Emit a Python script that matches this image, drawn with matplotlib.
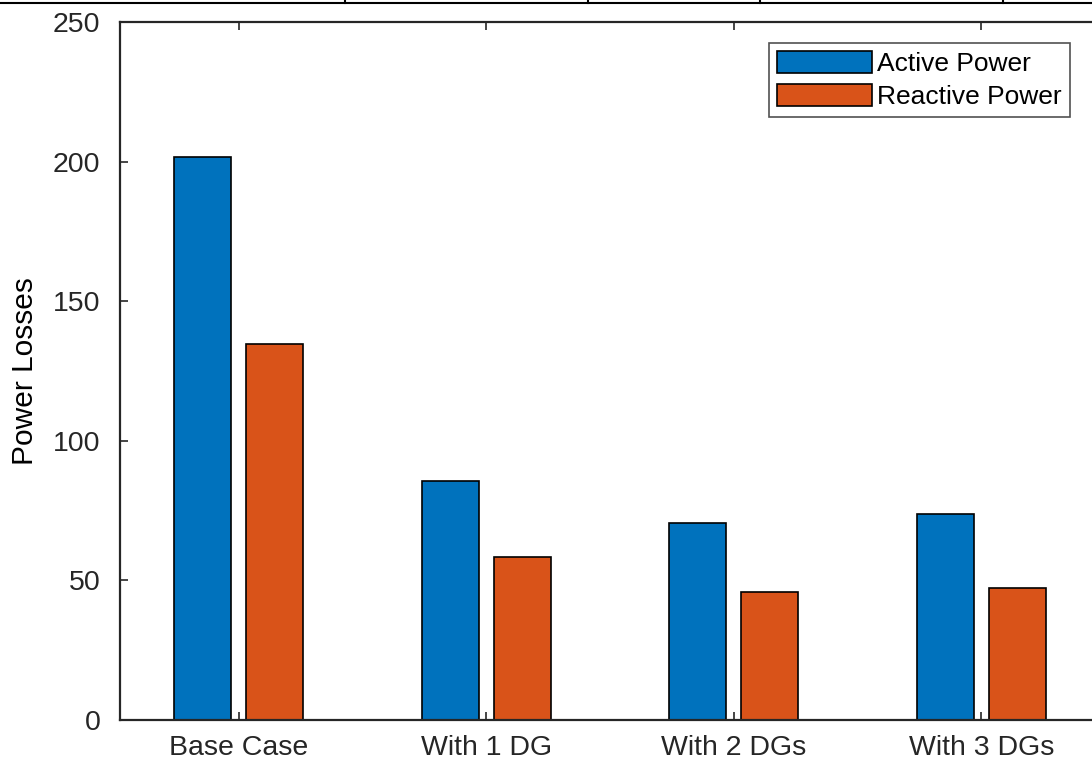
import matplotlib.pyplot as plt
from matplotlib.lines import Line2D
import numpy as np

plt.rcParams['font.family'] = ['Liberation Sans', 'DejaVu Sans']

categories = ['Base Case', 'With 1 DG', 'With 2 DGs', 'With 3 DGs']
active_power = [201.7, 85.6, 70.6, 73.8]
reactive_power = [134.7, 58.4, 45.8, 47.3]

W, H = 1092, 763
fig = plt.figure(figsize=(W / 100, H / 100), dpi=100)

# axes extends past the right edge (cropped like the reference)
x0, x1 = 0.52, 4.5
ax_w = (x1 - x0) * 247.5
ax = fig.add_axes([120 / W, 43 / H, ax_w / W, 698 / H])

x = np.arange(1, len(categories) + 1)
bw = 0.23
off = 0.145
ax.bar(x - off, active_power, bw, color='#0072BD', edgecolor='black',
       linewidth=1.2, label='Active Power')
ax.bar(x + off, reactive_power, bw, color='#D95319', edgecolor='black',
       linewidth=1.2, label='Reactive Power')

ax.set_xlim(x0, x1)
ax.set_ylim(0, 250)
ax.set_xticks(x)
ax.set_xticklabels(categories)
ax.set_yticks(np.arange(0, 251, 50))
ax.set_ylabel('Power Losses', fontsize=21.5, labelpad=10)

spine_c = '#262626'
for s in ax.spines.values():
    s.set_color(spine_c)
    s.set_linewidth(1.6)
ax.tick_params(direction='in', length=6, width=1.2, color=spine_c,
               labelsize=20.5, labelcolor='#262626', top=True, right=True)
ax.tick_params(axis='x', pad=11)
ax.tick_params(axis='y', pad=14)

leg = ax.legend(loc='upper left', fontsize=19, frameon=True,
                fancybox=False, borderpad=0.3, handlelength=3.6,
                handleheight=0.9, handletextpad=0.2, labelspacing=0.3,
                borderaxespad=0,
                bbox_to_anchor=((769 - 120) / ax_w, 1 - 21 / 698))
leg.get_frame().set_edgecolor('#262626')
leg.get_frame().set_linewidth(1.2)

# table border remnant at the top of the image
ytop = 1 - 3 / H
fig.add_artist(Line2D([0, 1], [ytop, ytop], color='black', lw=1.5,
                      transform=fig.transFigure))
for xp in [345, 588, 760, 1003]:
    fig.add_artist(Line2D([xp / W, xp / W], [ytop, 1], color='black', lw=1.5,
                          transform=fig.transFigure))

fig.savefig('out.png', dpi=100)
